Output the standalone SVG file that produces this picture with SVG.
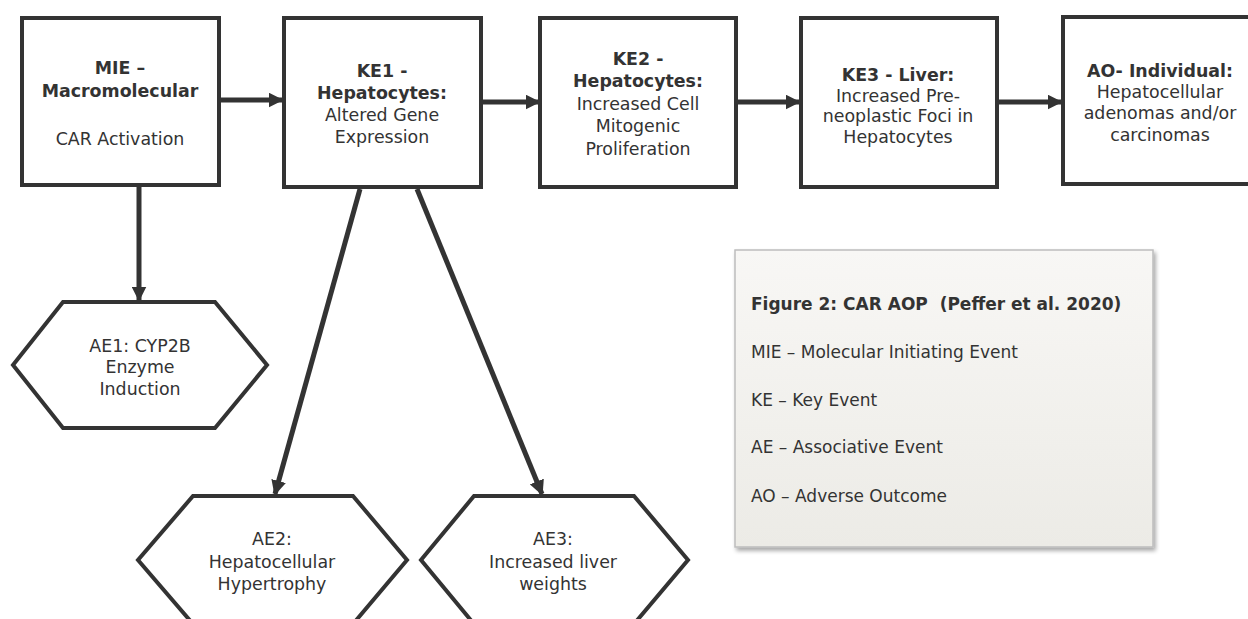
<svg xmlns="http://www.w3.org/2000/svg" width="1248" height="619" viewBox="0 0 1248 619">
<defs>
<style>
.box{fill:#fff;stroke:#333;stroke-width:4}
.hex{fill:#fff;stroke:#333;stroke-width:4;stroke-linejoin:miter}
.t{font-family:"DejaVu Sans",Verdana,sans-serif;font-size:17.4px;fill:#333;text-anchor:middle}
.b{font-weight:bold}
.conn{stroke:#333;stroke-width:5;fill:none}
.lg{font-family:"DejaVu Sans",Verdana,sans-serif;font-size:17px;fill:#333}
</style>
<marker id="ah" viewBox="0 0 10 10" refX="9" refY="5" markerWidth="3" markerHeight="3" orient="auto" markerUnits="strokeWidth">
<path d="M0,0 L10,5 L0,10 Z" fill="#333"/>
</marker>
<linearGradient id="lgf" x1="0" y1="0" x2="0" y2="1">
<stop offset="0" stop-color="#f8f7f5"/>
<stop offset="1" stop-color="#ecebe6"/>
</linearGradient>
<filter id="sh" x="-5%" y="-5%" width="115%" height="115%">
<feGaussianBlur in="SourceAlpha" stdDeviation="2"/>
<feOffset dx="2" dy="3"/>
<feComponentTransfer><feFuncA type="linear" slope="0.35"/></feComponentTransfer>
<feMerge><feMergeNode/><feMergeNode in="SourceGraphic"/></feMerge>
</filter>
</defs>
<rect width="1248" height="619" fill="#fff"/>

<g id="connectors">
<line class="conn" x1="221" y1="100" x2="282" y2="100" marker-end="url(#ah)"/>
<line class="conn" x1="483" y1="102" x2="539" y2="102" marker-end="url(#ah)"/>
<line class="conn" x1="738" y1="102" x2="799" y2="102" marker-end="url(#ah)"/>
<line class="conn" x1="999" y1="102" x2="1061" y2="102" marker-end="url(#ah)"/>
<line class="conn" x1="139" y1="187" x2="139" y2="300" marker-end="url(#ah)"/>
<line class="conn" x1="360" y1="189" x2="275" y2="494" marker-end="url(#ah)"/>
<line class="conn" x1="417" y1="189" x2="542" y2="494" marker-end="url(#ah)"/>
</g>

<g id="mie">
<rect class="box" x="22" y="18" width="197" height="167"/>
<text class="t b" x="120" y="74">MIE –</text>
<text class="t b" x="120" y="97">Macromolecular</text>
<text class="t" x="120" y="145">CAR Activation</text>
</g>

<g id="ke1">
<rect class="box" x="284" y="18" width="197" height="169"/>
<text class="t b" x="382" y="77">KE1 -</text>
<text class="t b" x="382" y="99">Hepatocytes:</text>
<text class="t" x="382" y="121">Altered Gene</text>
<text class="t" x="382" y="143">Expression</text>
</g>

<g id="ke2">
<rect class="box" x="540" y="18" width="196" height="169"/>
<text class="t b" x="638" y="65">KE2 -</text>
<text class="t b" x="638" y="87">Hepatocytes:</text>
<text class="t" x="638" y="110">Increased Cell</text>
<text class="t" x="638" y="132">Mitogenic</text>
<text class="t" x="638" y="155">Proliferation</text>
</g>

<g id="ke3">
<rect class="box" x="801" y="18" width="196" height="169"/>
<text class="t b" x="898" y="81">KE3 - Liver:</text>
<text class="t" x="898" y="102">Increased Pre-</text>
<text class="t" x="898" y="122">neoplastic Foci in</text>
<text class="t" x="898" y="143">Hepatocytes</text>
</g>

<g id="ao">
<rect class="box" x="1063" y="17" width="196" height="167"/>
<text class="t b" x="1160" y="77">AO- Individual:</text>
<text class="t" x="1160" y="98">Hepatocellular</text>
<text class="t" x="1160" y="119">adenomas and/or</text>
<text class="t" x="1160" y="141">carcinomas</text>
</g>

<g id="ae1">
<polygon class="hex" points="63,302 215,302 267,365 215,428 63,428 13,365"/>
<text class="t" x="140" y="352">AE1: CYP2B</text>
<text class="t" x="140" y="373">Enzyme</text>
<text class="t" x="140" y="395">Induction</text>
</g>

<g id="ae2">
<polygon class="hex" points="193,496 353,496 407,560 353,624 193,624 138,560"/>
<text class="t" x="272" y="545">AE2:</text>
<text class="t" x="272" y="568">Hepatocellular</text>
<text class="t" x="272" y="590">Hypertrophy</text>
</g>

<g id="ae3">
<polygon class="hex" points="474,496 634,496 688,560 634,624 474,624 421,560"/>
<text class="t" x="553" y="545">AE3:</text>
<text class="t" x="553" y="568">Increased liver</text>
<text class="t" x="553" y="590">weights</text>
</g>

<g id="legend">
<rect x="735" y="250" width="418" height="297" fill="url(#lgf)" stroke="#bdbdbd" stroke-width="1.5" filter="url(#sh)"/>
<text class="lg" x="751" y="310" font-weight="bold" xml:space="preserve">Figure 2: CAR AOP  (Peffer et al. 2020)</text>
<text class="lg" x="751" y="358">MIE – Molecular Initiating Event</text>
<text class="lg" x="751" y="406">KE – Key Event</text>
<text class="lg" x="751" y="453">AE – Associative Event</text>
<text class="lg" x="751" y="502">AO – Adverse Outcome</text>
</g>
</svg>
